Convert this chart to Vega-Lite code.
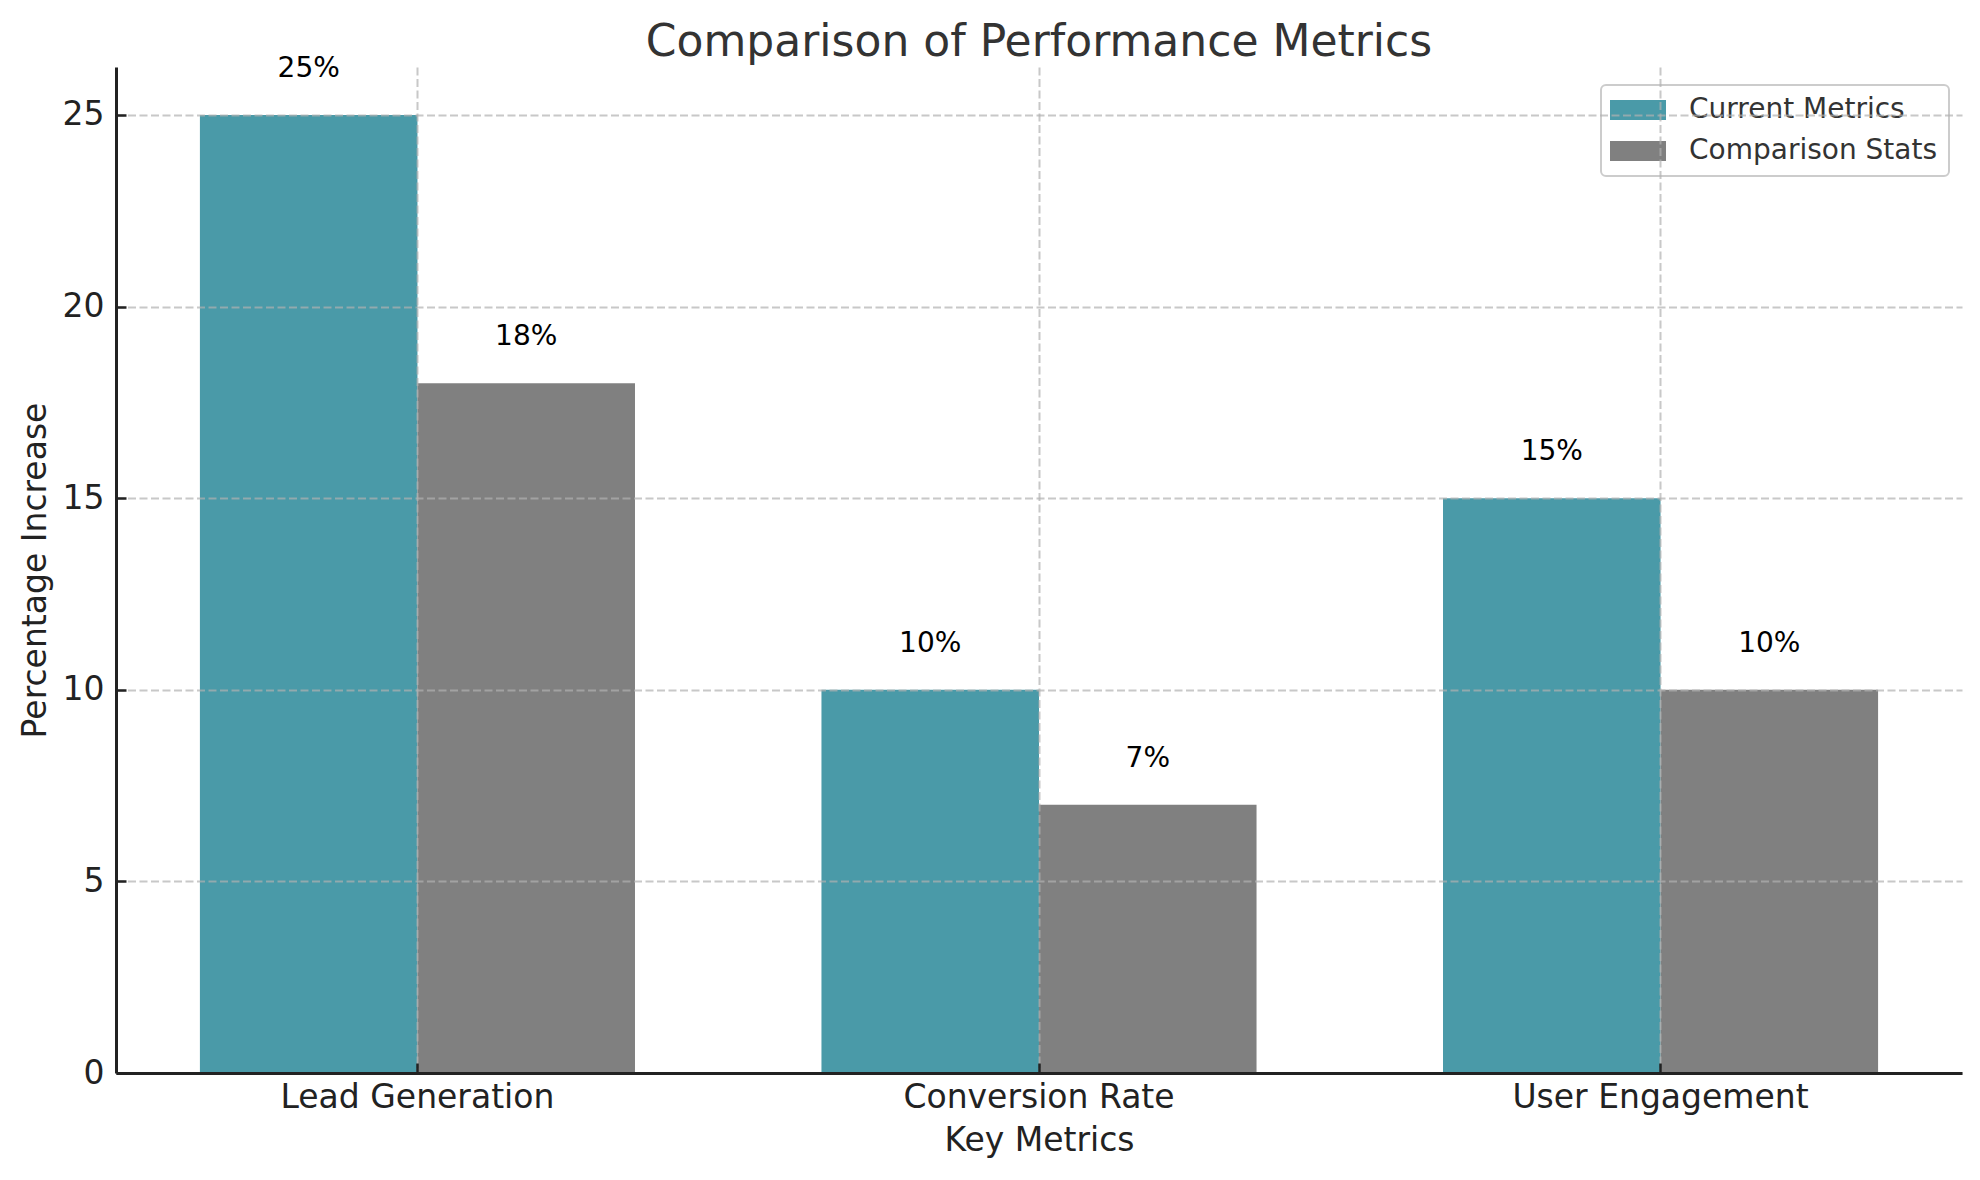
{
  "$schema": "https://vega.github.io/schema/vega-lite/v6.json",
  "width": 1846,
  "height": 1006,
  "autosize": "none",
  "padding": {"left": 116, "top": 67, "right": 18, "bottom": 107},
  "background": "white",
  "title": {
    "text": "Comparison of Performance Metrics",
    "font": "DejaVu Sans",
    "fontSize": 44,
    "fontWeight": "normal",
    "color": "#333333",
    "baseline": "bottom",
    "offset": -54,
    "anchor": "middle",
    "frame": "group"
  },
  "data": {
    "values": [
      {"metric": "Lead Generation", "series": "Current Metrics", "value": 25, "label": "25%"},
      {"metric": "Lead Generation", "series": "Comparison Stats", "value": 18, "label": "18%"},
      {"metric": "Conversion Rate", "series": "Current Metrics", "value": 10, "label": "10%"},
      {"metric": "Conversion Rate", "series": "Comparison Stats", "value": 7, "label": "7%"},
      {"metric": "User Engagement", "series": "Current Metrics", "value": 15, "label": "15%"},
      {"metric": "User Engagement", "series": "Comparison Stats", "value": 10, "label": "10%"}
    ]
  },
  "encoding": {
    "x": {
      "field": "metric",
      "type": "nominal",
      "sort": ["Lead Generation", "Conversion Rate", "User Engagement"],
      "scale": {"paddingInner": 0.3, "paddingOuter": 0.135},
      "axis": {
        "title": "Key Metrics",
        "labelAngle": 0,
        "bandPosition": 0.5,
        "grid": true,
        "zindex": 1
      }
    },
    "xOffset": {
      "field": "series",
      "type": "nominal",
      "sort": ["Current Metrics", "Comparison Stats"],
      "scale": {"paddingInner": 0, "paddingOuter": 0}
    },
    "y": {
      "field": "value",
      "type": "quantitative",
      "scale": {"domain": [0, 26.25], "nice": false, "zero": true},
      "axis": {
        "title": "Percentage Increase",
        "values": [0, 5, 10, 15, 20, 25],
        "grid": true,
        "zindex": 1
      }
    }
  },
  "layer": [
    {
      "mark": {"type": "bar", "opacity": 1},
      "encoding": {
        "color": {
          "field": "series",
          "type": "nominal",
          "scale": {"domain": ["Current Metrics", "Comparison Stats"], "range": ["#4a9aa8", "#808080"]},
          "legend": {"title": null}
        }
      }
    },
    {
      "mark": {"type": "text", "baseline": "alphabetic", "align": "center", "dy": -38, "font": "DejaVu Sans", "fontSize": 28, "color": "#000000"},
      "encoding": {"text": {"field": "label"}}
    }
  ],
  "config": {
    "view": {"stroke": null},
    "axis": {
      "labelFont": "DejaVu Sans",
      "labelFontSize": 33,
      "labelColor": "#222222",
      "labelLimit": 0,
      "titleFont": "DejaVu Sans",
      "titleFontSize": 33,
      "titleFontWeight": "normal",
      "titleColor": "#222222",
      "domainColor": "#222222",
      "domainWidth": 3,
      "tickColor": "#222222",
      "tickWidth": 2.5,
      "tickSize": -10,
      "gridColor": "#b0b0b0",
      "gridOpacity": 0.7,
      "gridWidth": 2,
      "gridDash": [8, 3.5]
    },
    "axisX": {"labelPadding": 18, "titlePadding": 10},
    "axisY": {"labelPadding": 22, "titlePadding": 10},
    "legend": {
      "orient": "none",
      "legendX": 1485,
      "legendY": 18,
      "symbolType": "M-1.6,-1L4,-1L4,1L-1.6,1Z",
      "symbolSize": 400,
      "symbolStrokeWidth": 0,
      "symbolOpacity": 1,
      "labelFont": "DejaVu Sans",
      "labelFontSize": 28,
      "labelColor": "#333333",
      "labelLimit": 0,
      "labelOffset": 49,
      "rowPadding": 13,
      "padding": 11,
      "strokeColor": "#cccccc",
      "strokeWidth": 2,
      "fillColor": "rgba(255,255,255,0.8)",
      "cornerRadius": 5
    }
  }
}
